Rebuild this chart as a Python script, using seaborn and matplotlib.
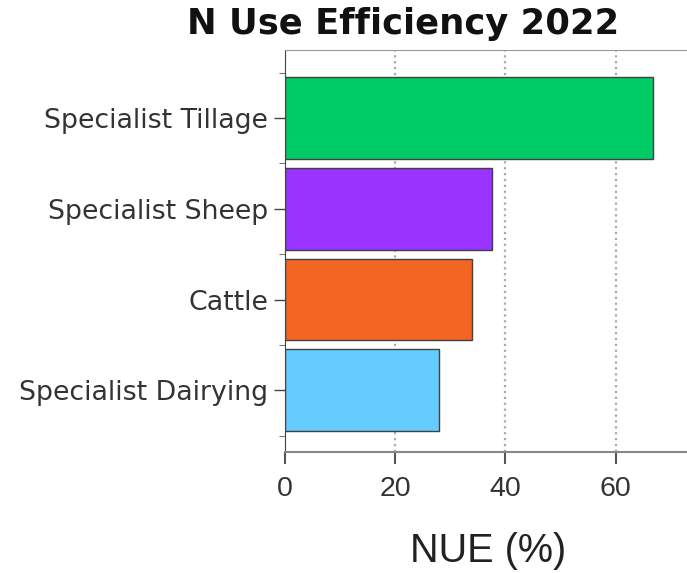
import matplotlib
matplotlib.use('Agg')
import matplotlib.pyplot as plt
import pandas as pd
import seaborn as sns

# Chart data
farm_types = ['Specialist Tillage', 'Specialist Sheep', 'Cattle', 'Specialist Dairying']
nue_values = [66.8, 37.6, 33.9, 27.9]
bar_colors = ['#00CC66', '#9933FF', '#F26522', '#66CCFF']
x_ticks = [0, 20, 40, 60]

df = pd.DataFrame({'farm': farm_types, 'nue': nue_values})

sns.set_style('white')
plt.rcParams['font.family'] = ['Liberation Sans', 'DejaVu Sans']

fig = plt.figure(figsize=(6.87, 5.73), dpi=100)
ax = fig.add_axes([285 / 687, 121 / 573, 420 / 687, 402 / 573])

sns.barplot(data=df, x='nue', y='farm', hue='farm', palette=bar_colors,
            legend=False, orient='h', width=0.9, edgecolor='#404040',
            linewidth=1.0, saturation=1, ax=ax)

ax.set_xlim(0, 420 / 5.51)
ax.set_ylim(3.68, -0.75)
ax.set_xticks(x_ticks)
ax.set_xticklabels([str(t) for t in x_ticks])
ax.set_yticks([-0.5, 0.5, 1.5, 2.5, 3.5], minor=True)

ax.xaxis.grid(True, linestyle=':', color='#aaaaaa', linewidth=1.6)
ax.yaxis.grid(False)
ax.set_axisbelow(True)

ax.tick_params(axis='x', which='major', direction='out', length=8.5, width=1.5,
               color='#555555', labelsize=20.5, labelcolor='#333333', pad=9,
               bottom=True)
ax.tick_params(axis='y', which='major', direction='out', length=8, width=1.0,
               color='#444444', labelsize=19.3, labelcolor='#333333', pad=4,
               left=True, labelfontfamily='DejaVu Sans')
ax.tick_params(axis='y', which='minor', direction='out', length=4, width=0.8,
               color='#777777', left=True)

for side in ['left', 'bottom', 'top']:
    ax.spines[side].set_visible(True)
ax.spines['left'].set_color('#444444')
ax.spines['bottom'].set_color('#888888')
ax.spines['bottom'].set_linewidth(1.5)
ax.spines['top'].set_color('#999999')
ax.spines['right'].set_visible(False)
ax.set_xlabel('')
ax.set_ylabel('')

fig.text(403 / 687, 1 - 24 / 573, 'N Use Efficiency 2022', ha='center', va='center',
         fontsize=25.5, fontweight='bold', color='#111111', family='DejaVu Sans')
fig.text(488 / 687, 1 - 551 / 573, 'NUE (%)', ha='center', va='center',
         fontsize=28.5, color='#222222')

fig.savefig('out.png', dpi=100)
